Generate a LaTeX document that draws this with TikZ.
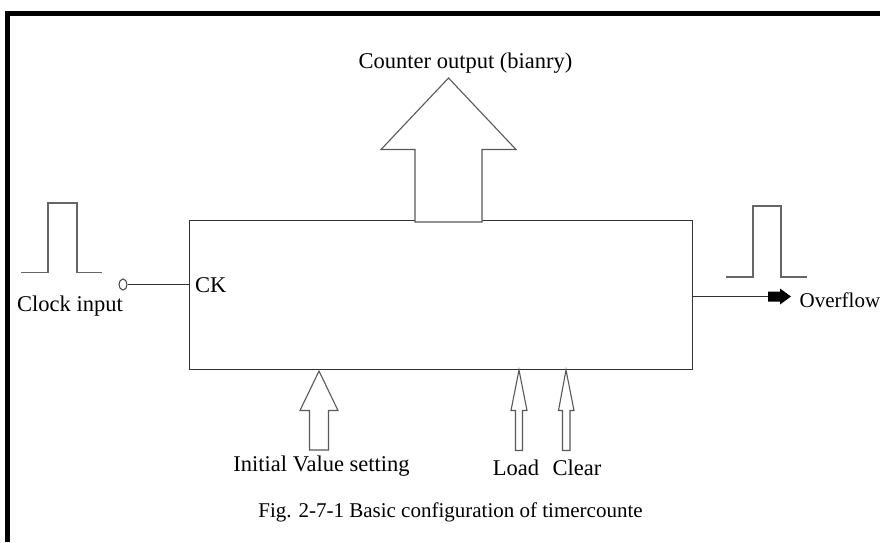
\documentclass[tikz,border=0pt]{standalone}
\usepackage{fontspec}
\setmainfont{Liberation Serif}
\usetikzlibrary{shapes.geometric}
\begin{document}
\begin{tikzpicture}[x=1pt,y=-1pt,
  lbl/.style={font=\fontsize{22.5}{25}\selectfont, inner sep=0pt, text=black},
  small lbl/.style={lbl, font=\fontsize{21}{24}\selectfont},
  wire/.style={draw=black!80, line width=1.4pt},
  pulse/.style={draw=black!60, line width=1.2pt},
  blockarrow/.style={draw=black!65, line width=1.1pt, fill=white, line join=miter},
]
\useasboundingbox (0,0) rectangle (880,542);
\fill[white] (0,0) rectangle (880,542);

% outer frame (top and left edges)
\draw[line width=5pt, line join=miter] (7.5,542) -- (7.5,13.5) -- (880,13.5);

% counter block
\node[wire, draw, minimum width=503pt, minimum height=149pt, inner sep=0pt, anchor=north west] (counter) at (189,220) {};
\node[lbl, anchor=west] (ck) at (195,285) {CK};

% clock input: pulse, input bubble and wire
\draw[pulse] (21,272.5) -- (48,272.5) -- (48,203) -- (77,203) -- (77,272.5) -- (102,272.5);
\node[draw=black!75, line width=1pt, ellipse, minimum width=8pt, minimum height=11pt, inner sep=0pt] (bubble) at (123,284.5) {};
\coordinate (ckin) at (counter.west |- bubble);
\draw[wire, line width=1.1pt] (bubble.east) -- (ckin);
\node[lbl, anchor=west] (clk) at (17,306) {Clock input};

% overflow output: pulse, wire and arrow
\draw[pulse] (726,277) -- (753,277) -- (753,206) -- (781,206) -- (781,277) -- (807,277);
\coordinate (ovf) at (768,296.5);
\draw[wire, line width=1.1pt] (counter.east |- ovf) -- (ovf);
\fill[black] (ovf) ++(0,-5) -- (780,291.5) -- (780,288.5) -- (791,296.5) -- (780,304.5) -- (780,301.5) -- (768,301.5) -- cycle;
\node[small lbl, anchor=west] (ovflbl) at (799.5,300) {Overflow};

% counter output (binary bus)
\draw[blockarrow] (415,222) -- (415,149.5) -- (381,149.5) -- (448.5,78) -- (516,149.5) -- (482,149.5) -- (482,222) -- cycle;
\node[lbl] (outlbl) at (465.5,63) {Counter output (bianry)};

% initial value setting (bus input)
\draw[blockarrow] (309.5,450) -- (309.5,410.5) -- (300,410.5) -- (319,371) -- (338,410.5) -- (328.5,410.5) -- (328.5,450) -- cycle;
\node[lbl] (initlbl) at (321.5,466) {Initial Value setting};

% load input
\draw[blockarrow] (515.5,450.5) -- (515.5,410.5) -- (511,410.5) -- (519,370) -- (527,410.5) -- (522.5,410.5) -- (522.5,450.5) -- cycle;
\node[lbl] (loadlbl) at (516,468) {Load};

% clear input
\draw[blockarrow] (562.5,450.5) -- (562.5,410.5) -- (558.5,410.5) -- (566,370) -- (574,410.5) -- (570,410.5) -- (570,450.5) -- cycle;
\node[lbl] (clrlbl) at (577,468) {Clear};

% caption
\node[small lbl] (caption) at (450.5,512) {Fig. 2-7-1 Basic configuration of timercounte};
\end{tikzpicture}
\end{document}
